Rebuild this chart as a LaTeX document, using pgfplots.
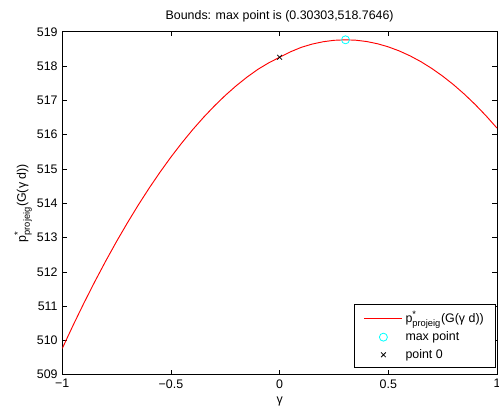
\documentclass[border=0pt]{standalone}
\usepackage{fontspec}
\setmainfont{Liberation Sans}
\usepackage{pgfplots}
\pgfplotsset{compat=1.18}
\definecolor{mcyan}{RGB}{0,255,255}
\definecolor{mred}{RGB}{255,0,0}

\begin{document}
\begin{tikzpicture}
\useasboundingbox (-46.7pt,-23.5pt) rectangle (327.5pt,281pt);
\begin{axis}[
    scale only axis,
    width=326pt, height=257.2pt,
    xmin=-1, xmax=1, ymin=509, ymax=519,
    xtick={-1,-0.5,0,0.5,1},
    xticklabels={−1,−0.5,0,0.5,1},
    ytick={509,510,...,519},
    /pgf/number format/assume math mode=true,
    tick align=inside,
    major tick length=3.5pt,
    tick style={black, line width=0.4pt},
    axis line style={line width=0.5pt},
    font=\fontsize{9.3pt}{11pt}\selectfont,
    title={Bounds: max point is (0.30303,518.7646)},
    title style={yshift=-2pt},
    xlabel={γ},
    ylabel={p$^{\mbox{\fontsize{7pt}{8pt}\selectfont *}}_{\mbox{\fontsize{7pt}{8pt}\selectfont projeig}}$(G(γ d))},
    ylabel shift=-3pt,
    legend image code/.code={\draw[mark repeat=2,mark phase=2,#1] plot coordinates {(0cm,0cm) (0.5cm,0cm) (1cm,0cm)};},
    legend style={at={(0.998,0.0216)}, anchor=south east, draw=black, line width=0.5pt,
        font=\fontsize{9.3pt}{11pt}\selectfont, row sep=1pt, inner xsep=7pt, inner ysep=3pt},
    legend cell align=left,
]
% curve
\addplot[color=mred, line width=0.7pt] coordinates {
    (-1.00,509.766) (-0.95,510.443) (-0.90,511.094) (-0.85,511.718) (-0.80,512.316)
    (-0.75,512.888) (-0.70,513.432) (-0.65,513.951) (-0.60,514.443) (-0.55,514.908)
    (-0.50,515.347) (-0.45,515.759) (-0.40,516.145) (-0.35,516.504) (-0.30,516.837)
    (-0.25,517.144) (-0.20,517.424) (-0.15,517.677) (-0.10,517.904) (-0.05,518.094)
    (0.00,518.255) (0.05,518.415) (0.10,518.546) (0.15,518.641) (0.20,518.708)
    (0.25,518.750) (0.30303,518.7646) (0.35,518.753) (0.40,518.715) (0.45,518.650)
    (0.50,518.559) (0.55,518.441) (0.60,518.297) (0.65,518.127) (0.70,517.929)
    (0.75,517.706) (0.80,517.456) (0.85,517.179) (0.90,516.876) (0.95,516.546)
    (1.00,516.190)};
% max point
\addplot[only marks, mark=o, mark size=3pt, color=mcyan, line width=0.6pt] coordinates {(0.30303,518.7646)};
% point 0
\addplot[only marks, mark=x, mark size=2.5pt, color=black, line width=0.6pt] coordinates {(0,518.255)};
\legend{p$^{\mbox{\fontsize{7pt}{8pt}\selectfont *}}_{\mbox{\fontsize{7pt}{8pt}\selectfont projeig}}$(G(γ d)), max point, point 0}
\end{axis}
\end{tikzpicture}
\end{document}
